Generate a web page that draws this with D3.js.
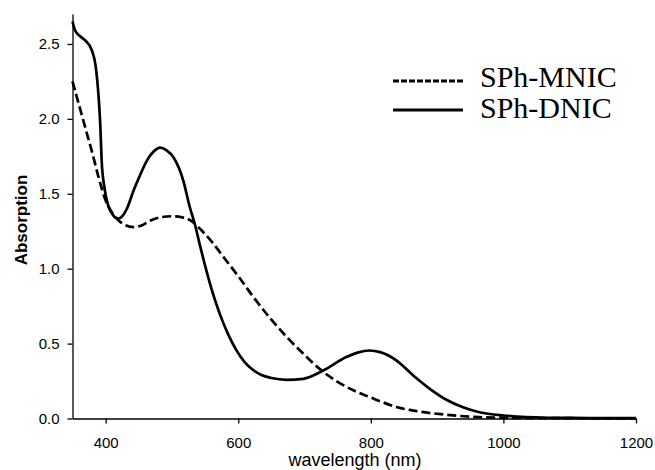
<!DOCTYPE html>
<html>
<head>
<meta charset="utf-8">
<script src="https://cdn.jsdelivr.net/npm/d3@7"></script>
<style>
	body { margin: 0; background: #fff; }
	svg text { fill: #000; }
</style>
</head>
<body>
<div id="chart"></div>
<script>
//wavelength (nm) and absorption
var dnicWave = [350,354,362,370,379,385,389,392,394,398,404,410,415,420,425,432,442,452,462,472,482,492,502,517,527,535,542,550,560,572,585,598,610,622,635,650,673,698,728,763,780,798,814,839,864,889,914,939,964,1000,1065,1130,1200];
var dnicAbs  = [2.65,2.59,2.55,2.52,2.46,2.35,2.17,1.95,1.72,1.545,1.42,1.365,1.34,1.335,1.35,1.40,1.52,1.625,1.72,1.78,1.808,1.79,1.745,1.59,1.41,1.29,1.16,1.02,0.86,0.70,0.56,0.45,0.375,0.325,0.29,0.27,0.258,0.265,0.32,0.41,0.44,0.454,0.443,0.387,0.287,0.198,0.125,0.075,0.042,0.02,0.005,0.003,0.002];

var mnicWave = [350,360,370,380,390,400,410,420,430,442,455,467,485,502,515,527,547,560,580,600,623,648,673,700,723,750,775,800,814,840,864,914,964,1000,1100,1200];
var mnicAbs  = [2.25,2.09,1.93,1.77,1.60,1.455,1.372,1.32,1.29,1.278,1.29,1.32,1.345,1.35,1.343,1.325,1.245,1.18,1.065,0.95,0.81,0.67,0.545,0.425,0.33,0.245,0.185,0.14,0.115,0.075,0.053,0.025,0.009,0.005,0.002,0.001];

var xTicks = [400,600,800,1000,1200];
var yTicks = [0,0.5,1.0,1.5,2.0,2.5];
var seriesNames = ["SPh-MNIC","SPh-DNIC"];

var width = 655, height = 470;
var margin = {top: 14, right: 19, bottom: 51.5, left: 72.5};

var svg = d3.select("#chart").append("svg")
	.attr("width", width)
	.attr("height", height);

var x = d3.scaleLinear().domain([350,1200]).range([margin.left, width - margin.right]);
var y = d3.scaleLinear().domain([0,2.7]).range([height - margin.bottom, margin.top]);

//axes
var xAxis = svg.append("g")
	.attr("transform", "translate(0," + y(0) + ")")
	.call(d3.axisBottom(x).tickValues(xTicks).tickSize(5).tickSizeOuter(0).tickPadding(13.5).tickFormat(d3.format("d")));

var yAxis = svg.append("g")
	.attr("transform", "translate(" + x(350) + ",0)")
	.call(d3.axisLeft(y).tickValues(yTicks).tickSize(5).tickSizeOuter(0).tickPadding(8).tickFormat(d3.format(".1f")));

[xAxis, yAxis].forEach(function(a){
	a.selectAll("path, line").attr("stroke", "#000").attr("stroke-width", 1.3);
	a.selectAll("text")
		.style("font-family", "'Liberation Sans', Arial, sans-serif")
		.style("font-size", "15px");
});

//axis titles
svg.append("text")
	.attr("x", 355)
	.attr("y", 465.5)
	.attr("text-anchor", "middle")
	.style("font-family", "'Liberation Sans', Arial, sans-serif")
	.style("font-size", "18px")
	.text("wavelength (nm)");

svg.append("text")
	.attr("transform", "translate(27,220) rotate(-90)")
	.attr("text-anchor", "middle")
	.style("font-family", "'Liberation Sans', Arial, sans-serif")
	.style("font-weight", "bold")
	.style("font-size", "17px")
	.text("Absorption");

//curves
var line = d3.line()
	.x(function(d){ return x(d[0]); })
	.y(function(d){ return y(d[1]); })
	.curve(d3.curveMonotoneX);

var mnic = d3.zip(mnicWave, mnicAbs),
	dnic = d3.zip(dnicWave, dnicAbs);

svg.append("path")
	.datum(mnic)
	.attr("d", line)
	.attr("fill", "none")
	.attr("stroke", "#000")
	.attr("stroke-width", 2.7)
	.attr("stroke-dasharray", "9,4");

svg.append("path")
	.datum(dnic)
	.attr("d", line)
	.attr("fill", "none")
	.attr("stroke", "#000")
	.attr("stroke-width", 2.7);

//legend
var legend = svg.append("g");
var rows = [{y: 81, dash: "6,2"}, {y: 110, dash: null}];
rows.forEach(function(r, i){
	legend.append("line")
		.attr("x1", 393).attr("x2", 463)
		.attr("y1", r.y).attr("y2", r.y)
		.attr("stroke", "#000")
		.attr("stroke-width", 3)
		.attr("stroke-dasharray", r.dash);
	legend.append("text")
		.attr("x", 480)
		.attr("y", r.y + 6 + i * 2)
		.style("font-family", "'Liberation Serif', 'Times New Roman', serif")
		.style("font-size", "30px")
		.text(seriesNames[i]);
});
</script>
</body>
</html>
